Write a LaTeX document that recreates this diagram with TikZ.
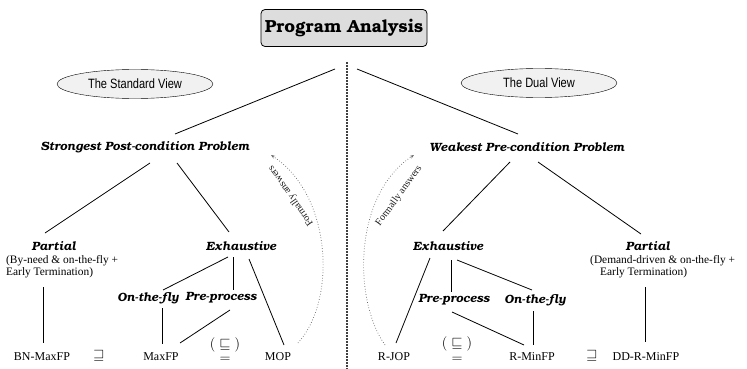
\documentclass[tikz,border=0pt]{standalone}
\usepackage{fontspec}
\setmainfont{Liberation Serif}
\newfontfamily\bkfont{TeX Gyre Bonum}
\newfontfamily\nsans[FakeStretch=0.82]{Liberation Sans}
\usetikzlibrary{shapes.geometric,arrows.meta,calc}
\begin{document}
\begin{tikzpicture}[x=1pt,y=-1pt,
  lbl/.style={font=\bkfont\bfseries\itshape\fontsize{12}{14}\selectfont, inner sep=0},
  titlebox/.style={draw, rounded corners=4pt, fill=gray!27, minimum width=166, minimum height=37, inner sep=0, line width=0.8, font=\bkfont\bfseries\fontsize{17.5}{20}\selectfont},
  term/.style={font=\fontsize{12}{14}\selectfont, inner sep=0},
  symb/.style={font=\fontsize{15}{17}\selectfont, inner sep=0},
  symbs/.style={font=\fontsize{13.5}{15}\selectfont, inner sep=0},
  subtxt/.style={font=\fontsize{11.4}{12.5}\selectfont, align=left, inner sep=0},
  view/.style={ellipse, draw, fill=gray!11, minimum width=156, minimum height=29, inner sep=0, font=\nsans\fontsize{13.5}{15}\selectfont},
  edge/.style={line width=0.8},
  fa/.style={dotted, gray!80!black, line width=0.7, -{Stealth[length=4pt,width=3pt]}},
  falbl/.style={font=\fontsize{10}{11}\selectfont, inner sep=0, gray!20!black}]
\useasboundingbox (0,0) rectangle (747,369);

\node[titlebox] (title) at (344,28) {Program Analysis};
\draw[dash pattern=on 2pt off 1pt, line width=1.2, gray!50!black] (347,62) coordinate (vtop) -- (347,369) coordinate (vbot);

\node[view] (stdv) at (135,84) {The Standard View};
\node[view] (dualv) at (539,83) {The Dual View};

\node[lbl] (strong) at (145,147) {Strongest Post-condition Problem};
\node[lbl] (weak) at (527,147) {Weakest Pre-condition Problem};

% left branch
\node[lbl] (partL) at (54,246) {Partial};
\node[subtxt, anchor=north west] (subL) at (6,255) {(By-need \& on-the-fly +\\Early Termination)};
\node[lbl] (exhL) at (241,246) {Exhaustive};
\node[lbl] (otfL) at (148,298) {On-the-fly};
\node[lbl] (ppL) at (221,298) {Pre-process};
\node[term] (bn) at (42,357) {BN-MaxFP};
\node[symb] (sqL) at (99,356) {$\sqsupseteq$};
\node[term] (maxfp) at (161,357) {MaxFP};
\node[symbs] (leqL) at (225,345) {$(\;\sqsubseteq\;)$};
\node[symbs] (eqL) at (225,360) {$=$};
\node[term] (mop) at (278,357) {MOP};

% right branch
\node[lbl] (exhR) at (448,246) {Exhaustive};
\node[lbl] (partR) at (648,246) {Partial};
\node[subtxt, anchor=north west] (subR) at (590,255) {(Demand-driven \& on-the-fly +\\\hspace*{10pt}Early Termination)};
\node[lbl] (ppR) at (454,300) {Pre-process};
\node[lbl] (otfR) at (535,300) {On-the-fly};
\node[term] (rjop) at (394,357) {R-JOP};
\node[symbs] (leqR) at (457,344) {$(\;\sqsubseteq\;)$};
\node[symbs] (eqR) at (457,360) {$=$};
\node[term] (rminfp) at (532,357) {R-MinFP};
\node[symb] (sqR) at (592,356) {$\sqsupseteq$};
\node[term] (dd) at (646,357) {DD-R-MinFP};

% connectors
\draw[edge] ($(title)+(-9,41)$) -- ($(strong)+(30,-13)$);
\draw[edge] ($(title)+(13,41)$) -- ($(weak)+(-9,-13)$);
\draw[edge] ($(strong)+(5,16)$) -- ($(partL)+(-9,-13)$);
\draw[edge] ($(strong)+(32,16)$) -- ($(exhL)+(-12,-14)$);
\draw[edge] ($(weak)+(-17,15)$) -- ($(exhR)+(-5,-15)$);
\draw[edge] ($(weak)+(11,15)$) -- ($(partR)+(-7,-12)$);
\draw[edge] ($(partL)+(-11,41)$) -- ($(bn)+(1,-14)$);
\draw[edge] ($(exhL)+(-13,11)$) -- ($(otfL)+(15,-8)$);
\draw[edge] ($(exhL)+(-8,11)$) -- ($(ppL)+(12,-8)$);
\draw[edge] ($(exhL)+(8,13)$) -- ($(mop)+(6,-12)$);
\draw[edge] ($(otfL)+(14,10)$) -- ($(maxfp)+(1,-13)$);
\draw[edge] ($(ppL)+(9,12)$) -- ($(maxfp)+(19,-14)$);
\draw[edge] ($(exhR)+(-18,12)$) -- ($(rjop)+(2,-14)$);
\draw[edge] ($(exhR)+(3,14)$) -- ($(ppR)+(-3,-8)$);
\draw[edge] ($(exhR)+(9,14)$) -- ($(otfR)+(-3,-10)$);
\draw[edge] ($(ppR)+(-2,12)$) -- ($(rminfp)+(-8,-12)$);
\draw[edge] ($(otfR)+(-2,11)$) -- ($(rminfp)+(1,-12)$);
\draw[edge] ($(partR)+(-3,41)$) -- ($(dd)+(-1,-15)$);

% formally answers
\draw[fa] ($(mop)+(20,-14)$) .. controls (337,300) and (332,195) .. ($(strong)+(126,8)$);
\node[falbl, rotate=125] (faL) at (291,196) {Formally answers};
\draw[fa] ($(rjop)+(-9,-12)$) .. controls (353,300) and (353,195) .. ($(weak)+(-113,8)$);
\node[falbl, rotate=54] (faR) at (399,196) {Formally answers};
\end{tikzpicture}
\end{document}
